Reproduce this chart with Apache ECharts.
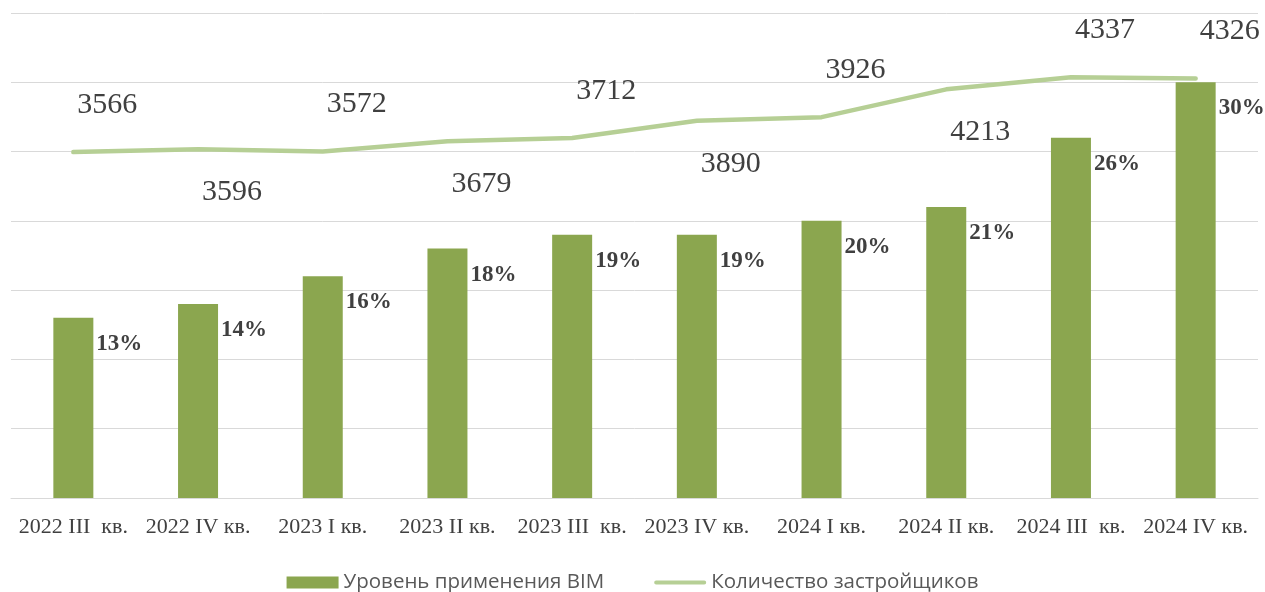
<!DOCTYPE html>
<html><head><meta charset="utf-8">
<script src="https://cdn.jsdelivr.net/npm/echarts@6/dist/echarts.min.js"></script>
<style>html,body{margin:0;padding:0;background:#fff}#c{width:1265px;height:592px}</style>
</head><body><div id="c"></div>
<script>
const categories = ['2022 III  кв.','2022 IV кв.','2023 I кв.','2023 II кв.','2023 III  кв.','2023 IV кв.','2024 I кв.','2024 II кв.','2024 III  кв.','2024 IV кв.'];
const bimLevel = [13,14,16,18,19,19,20,21,26,30];
const developers = [3566,3596,3572,3679,3712,3890,3926,4213,4337,4326];
const barName = 'Уровень применения BIM';
const lineName = 'Количество застройщиков';

const chart = echarts.init(document.getElementById('c'));
const lineData = developers.map((v,i)=>{
  const above = (i % 2 === 0) || i === developers.length-1;
  return {value:v,label:{position:above?'top':'bottom',distance:above?31:27,offset:[34,0]}};
});
chart.setOption({
  animation:false,
  grid:{left:11,right:7,top:13,bottom:94},
  legend:{top:567,left:'center',itemWidth:52,itemHeight:12,itemGap:50,
    textStyle:{fontFamily:'Open Sans',fontSize:20.5,color:'#595959'},
    data:[{name:barName,icon:'rect'},
          {name:lineName,icon:'path://M2,0 L52,0 A2,2 0 0 1 52,4 L2,4 A2,2 0 0 1 2,0 Z'}]},
  xAxis:{type:'category',data:categories,
    axisLine:{lineStyle:{color:'#d9d9d9',width:1}},axisTick:{show:false},
    axisLabel:{fontFamily:'Liberation Serif',fontSize:22,color:'#404040',margin:18,interval:0}},
  yAxis:[
    {type:'value',min:0,max:35,interval:5,axisLabel:{show:false},axisLine:{show:false},axisTick:{show:false},
      splitLine:{lineStyle:{color:'#d9d9d9',width:1}}},
    {type:'value',min:0,max:5000,axisLabel:{show:false},axisLine:{show:false},axisTick:{show:false},splitLine:{show:false}}
  ],
  series:[
    {name:barName,type:'bar',data:bimLevel,barWidth:40,itemStyle:{color:'#8ba64f'},
      label:{show:true,position:[43,26],align:'left',verticalAlign:'middle',formatter:'{c}%',
        fontFamily:'Liberation Serif',fontWeight:'bold',fontSize:23,color:'#404040'}},
    {name:lineName,type:'line',yAxisIndex:1,data:lineData,symbol:'circle',symbolSize:2,showSymbol:true,
      lineStyle:{color:'#b6cf95',width:4.5,cap:'round'},itemStyle:{color:'#b6cf95'},
      label:{show:true,fontFamily:'Liberation Serif',fontSize:30,color:'#404040'}}
  ]
});
</script></body></html>
